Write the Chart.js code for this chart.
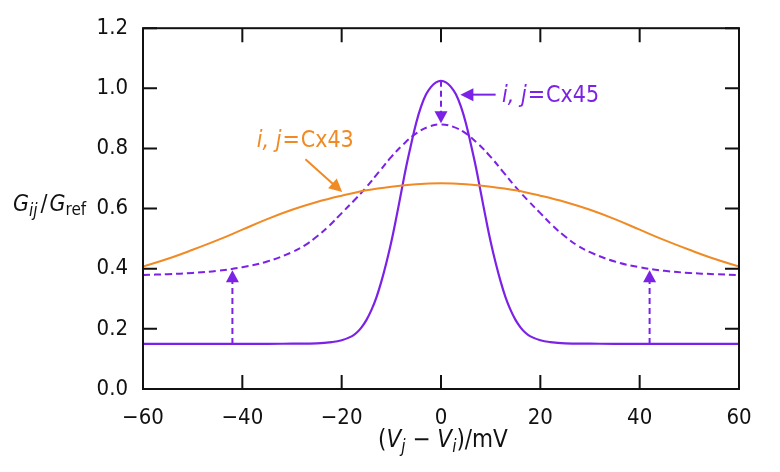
<!DOCTYPE html>
<html>
<head>
<meta charset="utf-8">
<script src="https://cdn.jsdelivr.net/npm/chart.js@4.4.0/dist/chart.umd.min.js"></script>
<style>
  html, body { margin: 0; padding: 0; background: #fff; }
</style>
</head>
<body>
<canvas id="gapChart" width="780" height="472"></canvas>
<script>
// --- data (G_ij / G_ref against V_j - V_i in mV) ---
const voltsCx43 = [-60, -55, -50, -45, -40, -35, -30, -25, -20, -15, -10, -5, 0,
                   5, 10, 15, 20, 25, 30, 35, 40, 45, 50, 55, 60];
const gCx43 = [0.407, 0.433, 0.463, 0.495, 0.530, 0.565, 0.596, 0.622, 0.643, 0.661, 0.673, 0.681, 0.684,
               0.681, 0.673, 0.661, 0.643, 0.622, 0.596, 0.565, 0.530, 0.495, 0.463, 0.433, 0.407];

const voltsCx45 = [-60, -35, -30, -25, -22, -20, -18, -17, -16, -15, -14, -13, -12, -11, -10, -9, -8, -7,
                   -6, -5, -4, -3, -2, -1, 0, 1, 2, 3, 4, 5, 6, 7, 8, 9, 10, 11, 12, 13, 14, 15, 16, 17,
                   18, 20, 22, 25, 30, 35, 60];
const gCx45 = [0.150, 0.150, 0.151, 0.152, 0.156, 0.162, 0.175, 0.187, 0.205, 0.230, 0.263, 0.305, 0.358,
               0.420, 0.490, 0.570, 0.655, 0.740, 0.815, 0.885, 0.940, 0.980, 1.005, 1.020, 1.025,
               1.020, 1.005, 0.980, 0.940, 0.885, 0.815, 0.740, 0.655, 0.570, 0.490, 0.420, 0.358,
               0.305, 0.263, 0.230, 0.205, 0.187, 0.175, 0.162, 0.156, 0.152, 0.151, 0.150, 0.150];

const voltsMixed = [-60, -55, -50, -45, -40, -35, -30, -27.5, -25, -22.5, -20, -17.5, -15, -12.5, -10,
                    -7.5, -5, -2.5, 0, 2.5, 5, 7.5, 10, 12.5, 15, 17.5, 20, 22.5, 25, 27.5, 30, 35,
                    40, 45, 50, 55, 60];
const gMixed = [0.379, 0.382, 0.386, 0.393, 0.405, 0.424, 0.455, 0.477, 0.507, 0.543, 0.585, 0.627, 0.672,
                0.722, 0.772, 0.815, 0.850, 0.872, 0.880, 0.872, 0.850, 0.815, 0.772, 0.722, 0.672,
                0.627, 0.585, 0.543, 0.507, 0.477, 0.455, 0.424, 0.405, 0.393, 0.386, 0.382, 0.379];

// shift arrows (dashed): from solid curve to dashed curve
const shiftX = [-42, 0, 42];
const shiftFrom = [0.15, 1.025, 0.15];
const shiftTo = [0.395, 0.884, 0.395];

const xTicks = [-60, -40, -20, 0, 20, 40, 60];
const yTicks = [0.0, 0.2, 0.4, 0.6, 0.8, 1.0, 1.2];

// --- styling ---
const PURPLE = "#7b22e6";
const ORANGE = "#f08a24";
const FONT = '"DejaVu Sans Condensed", "Liberation Sans Narrow", "Roboto Condensed", Lato, "DejaVu Sans", sans-serif';

function toPoints(xs, ys) {
  return xs.map((x, i) => ({ x: x, y: ys[i] }));
}

function drawRich(ctx, parts, x, y, align) {
  let total = 0;
  parts.forEach((p) => {
    ctx.font = p.font;
    total += ctx.measureText(p.t).width + (p.gap || 0);
  });
  let cx = align === "center" ? x - total / 2 : x;
  parts.forEach((p) => {
    ctx.font = p.font;
    ctx.fillText(p.t, cx, y + (p.dy || 0));
    cx += ctx.measureText(p.t).width + (p.gap || 0);
  });
}

function arrowHead(ctx, tipX, tipY, dirX, dirY, len, half) {
  const bx = tipX - dirX * len;
  const by = tipY - dirY * len;
  ctx.beginPath();
  ctx.moveTo(tipX, tipY);
  ctx.lineTo(bx - dirY * half, by + dirX * half);
  ctx.lineTo(bx + dirY * half, by - dirX * half);
  ctx.closePath();
  ctx.fill();
}

function cxLabel(ctx, text, x, y, color) {
  ctx.fillStyle = color;
  ctx.textBaseline = "alphabetic";
  drawRich(ctx, [
    { t: "i, j", font: "italic 23px " + FONT, gap: 1 },
    { t: "=", font: "23px " + FONT, gap: 1 },
    { t: text, font: "23px " + FONT },
  ], x, y, "left");
}

const framePlugin = {
  id: "frame",
  afterDatasetsDraw(chart) {
    const { ctx, chartArea: a, scales } = chart;
    const xs = scales.x;
    const ys = scales.y;
    ctx.save();

    // dashed shift arrows
    ctx.strokeStyle = PURPLE;
    ctx.fillStyle = PURPLE;
    ctx.lineWidth = 2;
    shiftX.forEach((v, i) => {
      const px = xs.getPixelForValue(v);
      const p0 = ys.getPixelForValue(shiftFrom[i]);
      const p1 = ys.getPixelForValue(shiftTo[i]);
      const dir = p1 < p0 ? -1 : 1;
      ctx.setLineDash([6, 4]);
      ctx.beginPath();
      ctx.moveTo(px, p0);
      ctx.lineTo(px, p1 - dir * 10);
      ctx.stroke();
      ctx.setLineDash([]);
      arrowHead(ctx, px, p1, 0, dir, 12, 6.5);
    });

    // label pointers
    const p45a = [xs.getPixelForValue(11), ys.getPixelForValue(0.979)];
    const p45b = [xs.getPixelForValue(3.9), ys.getPixelForValue(0.979)];
    ctx.beginPath();
    ctx.moveTo(p45a[0], p45a[1]);
    ctx.lineTo(p45b[0] + 10, p45b[1]);
    ctx.stroke();
    arrowHead(ctx, p45b[0], p45b[1], -1, 0, 13, 6.5);

    ctx.strokeStyle = ORANGE;
    ctx.fillStyle = ORANGE;
    const p43a = [xs.getPixelForValue(-27.3), ys.getPixelForValue(0.764)];
    const p43b = [xs.getPixelForValue(-19.9), ys.getPixelForValue(0.655)];
    const dx = p43b[0] - p43a[0];
    const dy = p43b[1] - p43a[1];
    const d = Math.hypot(dx, dy);
    ctx.beginPath();
    ctx.moveTo(p43a[0], p43a[1]);
    ctx.lineTo(p43b[0] - (dx / d) * 10, p43b[1] - (dy / d) * 10);
    ctx.stroke();
    arrowHead(ctx, p43b[0], p43b[1], dx / d, dy / d, 13, 6.5);

    cxLabel(ctx, "Cx45", xs.getPixelForValue(12.3), ys.getPixelForValue(0.954), PURPLE);
    cxLabel(ctx, "Cx43", xs.getPixelForValue(-37.1), ys.getPixelForValue(0.804), ORANGE);

    // frame and inward ticks on all four sides
    ctx.strokeStyle = "#111";
    ctx.lineWidth = 2;
    ctx.strokeRect(a.left, a.top, a.right - a.left, a.bottom - a.top);
    const tl = 14;
    ctx.beginPath();
    xTicks.forEach((v) => {
      const px = xs.getPixelForValue(v);
      ctx.moveTo(px, a.bottom);
      ctx.lineTo(px, a.bottom - tl);
      ctx.moveTo(px, a.top);
      ctx.lineTo(px, a.top + tl);
    });
    yTicks.forEach((v) => {
      const py = ys.getPixelForValue(v);
      ctx.moveTo(a.left, py);
      ctx.lineTo(a.left + tl, py);
      ctx.moveTo(a.right, py);
      ctx.lineTo(a.right - tl, py);
    });
    ctx.stroke();

    // axis titles
    ctx.fillStyle = "#111";
    ctx.textBaseline = "alphabetic";
    drawRich(ctx, [
      { t: "G", font: "italic 23px " + FONT },
      { t: "ij", font: "italic 17px " + FONT, dy: 5, gap: 3 },
      { t: "/", font: "23px " + FONT, gap: 2 },
      { t: "G", font: "italic 23px " + FONT },
      { t: "ref", font: "17px " + FONT, dy: 4 },
    ], 13, ys.getPixelForValue(0.6) + 2, "left");

    drawRich(ctx, [
      { t: "(", font: "24px " + FONT },
      { t: "V", font: "italic 24px " + FONT },
      { t: "j", font: "italic 17px " + FONT, dy: 5 },
      { t: " \u2212 ", font: "24px " + FONT },
      { t: "V", font: "italic 24px " + FONT },
      { t: "i", font: "italic 17px " + FONT, dy: 5 },
      { t: ")/mV", font: "24px " + FONT },
    ], (a.left + a.right) / 2 + 2, 447, "center");
    ctx.restore();
  },
};

const ctx = document.getElementById("gapChart").getContext("2d");

new Chart(ctx, {
  type: "line",
  data: {
    datasets: [
      {
        label: "Cx43",
        data: toPoints(voltsCx43, gCx43),
        borderColor: ORANGE,
        borderWidth: 2,
        pointRadius: 0,
        tension: 0.4,
      },
      {
        label: "Cx45/Cx43",
        data: toPoints(voltsMixed, gMixed),
        borderColor: PURPLE,
        borderWidth: 2,
        borderDash: [7, 4],
        pointRadius: 0,
        tension: 0.4,
      },
      {
        label: "Cx45",
        data: toPoints(voltsCx45, gCx45),
        borderColor: PURPLE,
        borderWidth: 2.2,
        pointRadius: 0,
        tension: 0.4,
      },
    ],
  },
  options: {
    responsive: false,
    animation: false,
    layout: { padding: { left: 0, top: 21, right: 41, bottom: 0 } },
    plugins: {
      legend: { display: false },
      tooltip: { enabled: false },
    },
    scales: {
      x: {
        type: "linear",
        min: -60,
        max: 60,
        afterBuildTicks: (s) => { s.ticks = xTicks.map((v) => ({ value: v })); },
        afterFit: (s) => { s.height = 83; },
        grid: { display: false, drawTicks: false },
        border: { display: false },
        ticks: {
          padding: 16,
          color: "#111",
          font: { family: FONT, size: 22 },
          callback: (v) => (v < 0 ? "\u2212" + Math.abs(v) : String(v)),
        },
      },
      y: {
        type: "linear",
        min: 0,
        max: 1.2,
        afterBuildTicks: (s) => { s.ticks = yTicks.map((v) => ({ value: v })); },
        afterFit: (s) => { s.width = 143; },
        grid: { display: false, drawTicks: false },
        border: { display: false },
        ticks: {
          padding: 15,
          color: "#111",
          font: { family: FONT, size: 22 },
          callback: (v) => Number(v).toFixed(1),
        },
      },
    },
  },
  plugins: [framePlugin],
});
</script>
</body>
</html>
